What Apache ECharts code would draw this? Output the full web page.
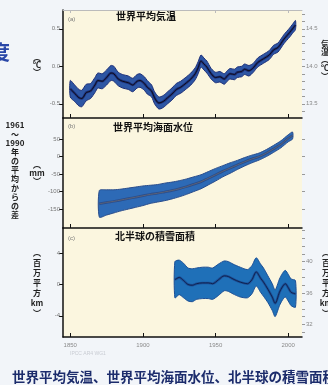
<!DOCTYPE html>
<html><head><meta charset="utf-8">
<script src="https://cdn.jsdelivr.net/npm/echarts@6/dist/echarts.min.js"></script>
<style>html,body{margin:0;padding:0;background:#f2f5f9;}#c{width:328px;height:385px;}</style>
</head><body><div id="c"></div>
<script>
// ---- data ----
const xTicks = [1850, 1900, 1950, 2000];
const xTickLabels = ['1850', '1900', '1950', '2000'];

const tempYears = [1850,1853,1856,1858,1861,1864,1867,1869,1872,1875,1878,1880,1883,1886,1890,1893,1896,1898,1901,1903,1906,1908,1911,1914,1917,1920,1923,1926,1930,1933,1936,1938,1940,1942,1944,1947,1950,1953,1956,1958,1960,1963,1965,1968,1970,1973,1976,1979,1983,1987,1990,1993,1997,2001,2003,2005];
const tempVals = [-0.30,-0.36,-0.42,-0.43,-0.35,-0.33,-0.25,-0.19,-0.20,-0.15,-0.09,-0.10,-0.17,-0.20,-0.22,-0.25,-0.20,-0.19,-0.23,-0.28,-0.33,-0.42,-0.49,-0.47,-0.42,-0.37,-0.31,-0.28,-0.22,-0.17,-0.10,-0.02,0.07,0.03,-0.01,-0.10,-0.15,-0.14,-0.17,-0.13,-0.10,-0.11,-0.08,-0.07,-0.04,-0.06,-0.02,0.05,0.10,0.15,0.22,0.25,0.36,0.45,0.50,0.55];
const tempErr = [0.11,0.11,0.11,0.11,0.11,0.10,0.10,0.10,0.10,0.10,0.10,0.10,0.09,0.09,0.09,0.09,0.09,0.09,0.09,0.09,0.08,0.08,0.08,0.08,0.08,0.08,0.08,0.08,0.08,0.08,0.08,0.08,0.08,0.08,0.08,0.07,0.07,0.07,0.07,0.07,0.07,0.07,0.07,0.07,0.07,0.07,0.06,0.06,0.06,0.06,0.06,0.06,0.06,0.06,0.06,0.06];
const tempTicks = [-0.5, 0, 0.5];
const tempTickLabels = ['-0.5', '0.0', '0.5'];
const tempRightTicks = [13.4,13.5,13.6,13.7,13.8,13.9,14.0,14.1,14.2,14.3,14.4,14.5,14.6,14.7];
const tempRightLabels = ['13.5', '14.0', '14.5'];

const seaYears = [1870,1875,1880,1885,1890,1895,1900,1905,1910,1915,1920,1925,1930,1935,1940,1945,1950,1955,1960,1965,1970,1975,1980,1985,1990,1995,2000,2003];
const seaVals = [-135,-131,-128,-124,-120,-116,-112,-108,-105,-101,-97,-92,-86,-79,-72,-62,-52,-42,-33,-24,-15,-7,0,10,22,35,52,60];
const seaErr = [38,36,33,31,30,29,28,26,25,25,24,23,22,21,20,19,18,16,15,13,12,11,10,10,10,10,10,10];
const seaTicks = [-150, -100, -50, 0, 50];
const seaTickLabels = ['-150', '-100', '-50', '0', '50'];

const snowYears = [1922,1925,1928,1931,1934,1937,1941,1945,1948,1952,1956,1959,1962,1967,1972,1975,1978,1981,1983,1986,1989,1991,1994,1996,1998,2000,2002,2005];
const snowVals = [0.6,0.9,0.5,0.0,-0.1,0.1,0.2,0.2,0.1,0.6,1.1,1.0,0.7,0.3,0.1,0.6,1.6,0.8,0.3,-0.6,-1.6,-2.4,-1.0,-0.3,0.1,-0.4,-1.0,-1.2];
const snowErr = [2.3,2.2,2.2,2.1,2.1,2.0,2.0,2.0,2.0,2.0,1.9,1.9,1.9,1.9,1.8,1.8,1.8,1.8,1.8,1.7,1.7,1.7,1.7,1.7,1.7,1.7,1.7,1.7];
const snowTicks = [-4, 0, 4];
const snowTickLabels = ['-4', '0', '4'];
const snowRightTicks = [31,32,33,34,35,36,37,38,39,40,41,42,43,44];
const snowRightLabels = ['32', '36', '40'];

const panelTitles = ['世界平均気温', '世界平均海面水位', '北半球の積雪面積'];
const panelLetters = ['(a)', '(b)', '(c)'];
const caption = '世界平均気温、世界平均海面水位、北半球の積雪面積';
const sideLabel = ['1961', '～', '1990', '年', 'の', '平', '均', 'か', 'ら', 'の', '差'];

// ---- chart ----
const JP = '"Noto Sans CJK JP", "Noto Sans", sans-serif';
const chart = echarts.init(document.getElementById('c'), null, {renderer: 'canvas'});
const L = 63, W = 239;
const grids = [
  {left: L, top: 10, width: W, height: 108},
  {left: L, top: 118, width: W, height: 110},
  {left: L, top: 228, width: W, height: 109}
].map(g => Object.assign(g, {show: true, backgroundColor: '#fbf6df', borderWidth: 0}));

function xAx(i) {
  return {
    type: 'value', gridIndex: i, min: 1845, max: 2009.5, position: 'bottom',
    axisLine: {onZero: false, lineStyle: {color: '#111', width: 1.5}},
    axisTick: {show: true, inside: true, length: 4, customValues: xTicks, lineStyle: {color: '#111', width: 1}},
    axisLabel: {show: i === 2, customValues: xTicks, formatter: v => xTickLabels[xTicks.indexOf(v)] || '', fontSize: 6, color: '#8a8a8a', margin: 5, fontFamily: 'Liberation Sans'},
    splitLine: {show: false}
  };
}
function yLeft(i, min, max, ticks, labels) {
  return {
    type: 'value', gridIndex: i, min, max, position: 'left',
    axisLine: {show: true, onZero: false, lineStyle: {color: '#111', width: 1.5}},
    axisTick: {show: true, length: 4, customValues: ticks, lineStyle: {color: '#111'}},
    axisLabel: {customValues: ticks, formatter: v => labels[ticks.indexOf(v)] || '', fontSize: 6, color: '#777', margin: 3, fontFamily: 'Liberation Sans'},
    splitLine: {show: false}
  };
}
function yRight(i, min, max, ticks, labelVals, labels) {
  return {
    type: 'value', gridIndex: i, min, max, position: 'right',
    axisLine: {show: false, onZero: false},
    axisTick: {show: true, length: 3, customValues: ticks, lineStyle: {color: '#999'}},
    axisLabel: {show: !!labels, customValues: labelVals || [], formatter: v => labels ? (labels[labelVals.indexOf(v)] || '') : '', fontSize: 6, color: '#888', margin: 4, fontFamily: 'Liberation Sans'},
    splitLine: {show: false}
  };
}

const yAxes = [
  yLeft(0, -0.69, 0.75, tempTicks, tempTickLabels),
  yRight(0, 13.31, 14.75, tempRightTicks, [13.5, 14.0, 14.5], tempRightLabels),
  yLeft(1, -204, 110, seaTicks, seaTickLabels),
  yRight(1, -204, 110, seaTicks, null, null),
  yLeft(2, -6.7, 7.2, snowTicks, snowTickLabels),
  yRight(2, 30.4, 44.3, snowRightTicks, [32, 36, 40], snowRightLabels)
];

function bandSeries(id, xi, yi, years, vals, err, bandColor, edgeColor, lineColor) {
  return [
    {type: 'custom', name: id + 'band', xAxisIndex: xi, yAxisIndex: yi, silent: true, z: 2,
     data: years.map((y, k) => [y, vals[k]]),
     encode: {x: 0, y: 1},
     renderItem: function (params, api) {
       if (params.dataIndex !== 0) return null;
       const up = years.map((y, k) => api.coord([y, vals[k] + err[k]]));
       const lo = years.map((y, k) => api.coord([y, vals[k] - err[k]])).reverse();
       return {type: 'polygon', shape: {points: up.concat(lo), smooth: 0.25},
               style: {fill: bandColor, stroke: edgeColor, lineWidth: 1}};
     }},
    {type: 'line', name: id + 'mid2', xAxisIndex: xi, yAxisIndex: yi, symbol: 'none', smooth: 0.3,
     lineStyle: {color: edgeColor, width: 2.5}, data: years.map((y, k) => [y, vals[k]]), z: 3},
    {type: 'line', name: id + 'mid', xAxisIndex: xi, yAxisIndex: yi, symbol: 'none', smooth: 0.3,
     lineStyle: {color: lineColor, width: 1}, data: years.map((y, k) => [y, vals[k]]), z: 4}
  ];
}

const series = [].concat(
  bandSeries('t', 0, 0, tempYears, tempVals, tempErr, '#2d56a4', '#1d2f78', '#0d0d1a'),
  bandSeries('s', 1, 2, seaYears, seaVals, seaErr, '#2d6ab6', '#2a4d8c', '#5b6276'),
  bandSeries('n', 2, 4, snowYears, snowVals, snowErr, '#1f70b8', '#1c4f96', '#0f2250')
);

const graphic = [];
const titleY = [16, 127, 236];
const titleX = [146, 153, 155];
const letterY = [19, 126, 238];
for (let i = 0; i < 3; i++) {
  graphic.push({type: 'text', x: titleX[i], y: titleY[i], style: {text: panelTitles[i], font: 'bold 10px ' + JP, fill: '#111', align: 'center', verticalAlign: 'middle'}, z: 10});
  graphic.push({type: 'text', x: 68, y: letterY[i], style: {text: panelLetters[i], font: '6px Liberation Sans', fill: '#777', verticalAlign: 'middle'}, z: 10});
}
function vtext(x, y, lines, size, color, lh) {
  graphic.push({type: 'text', x, y, style: {text: lines.join('\n'), font: 'bold ' + size + 'px ' + JP, fill: color, align: 'center', verticalAlign: 'middle', lineHeight: lh}, z: 10});
}
vtext(37, 65, ['︵', '℃', '︶'], 8, '#222', 7);
vtext(37, 173, ['︵', 'mm', '︶'], 8, '#222', 8);
vtext(37, 283, ['︵', '百', '万', '平', '方', 'km', '︶'], 8, '#222', 10);
vtext(325, 60, ['気', '温', '︵', '℃', '︶'], 8, '#222', 8);
vtext(326, 283, ['︵', '百', '万', '平', '方', 'km', '︶'], 8, '#222', 10);
graphic.push({type: 'text', x: 15, y: 170, style: {text: sideLabel.join('\n'), font: 'bold 8px ' + JP, fill: '#222', align: 'center', verticalAlign: 'middle', lineHeight: 9}, z: 10});
graphic.push({type: 'text', x: -10, y: 52, style: {text: '度', font: 'bold 20px ' + JP, fill: '#2a47a8', verticalAlign: 'middle'}, z: 10});
graphic.push({type: 'text', x: 70, y: 354, style: {text: 'IPCC AR4 WG1', font: '5px Liberation Sans', fill: '#c9ccd3', verticalAlign: 'middle'}, z: 10});
graphic.push({type: 'text', x: 12, y: 377, style: {text: caption, font: 'bold 13.5px ' + JP, fill: '#1c2c6c', verticalAlign: 'middle'}, z: 10});

const topAxis = {type: 'value', gridIndex: 0, min: 1845, max: 2009.5, position: 'top',
  axisLine: {onZero: false, lineStyle: {color: '#bbb', width: 1}}, axisTick: {show: true, inside: true, length: 3, customValues: xTicks, lineStyle: {color: '#bbb'}},
  axisLabel: {show: false}, splitLine: {show: false}};

chart.setOption({
  backgroundColor: '#f2f5f9',
  animation: false,
  grid: grids,
  xAxis: [xAx(0), xAx(1), xAx(2), topAxis],
  yAxis: yAxes,
  series,
  graphic
});
</script></body></html>
